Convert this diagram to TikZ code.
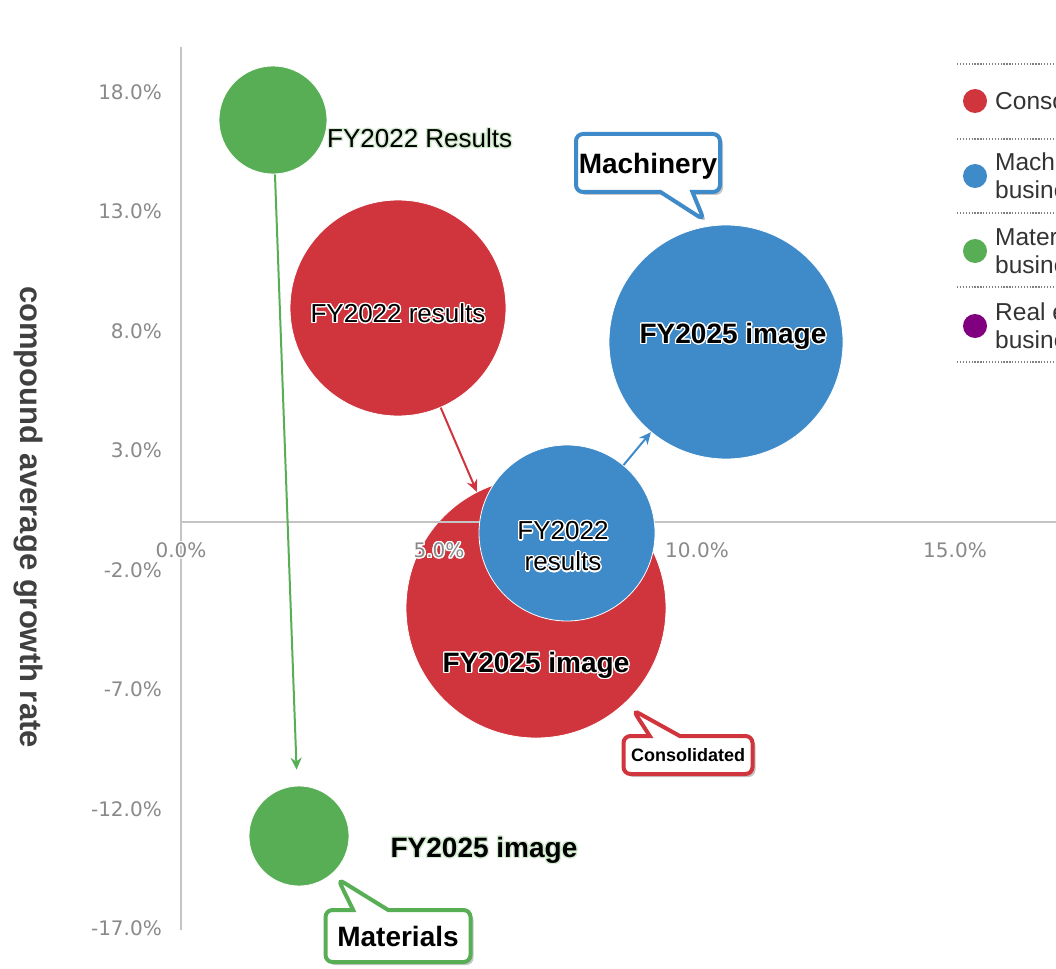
\documentclass[tikz,border=0pt]{standalone}
\usepackage{fontspec}
\setmainfont{Liberation Sans}
\newfontfamily\tickfont{DejaVu Sans}
\usepackage{contour}
\contourlength{1.3pt}
\contournumber{20}
\usetikzlibrary{arrows.meta,shadows,shapes.callouts}
\definecolor{consred}{HTML}{D0353D}
\definecolor{machblue}{HTML}{3F8AC8}
\definecolor{matgreen}{HTML}{58AE55}
\definecolor{realpurple}{HTML}{800080}
\definecolor{axisgray}{HTML}{C4C4C4}
\definecolor{tickgray}{HTML}{898989}
\definecolor{glowgreen}{HTML}{D2ECCF}
\begin{document}
\begin{tikzpicture}[
  x=1pt, y=-1pt,
  bubble/.style={circle, draw=white, line width=.8pt, inner sep=0pt, minimum size=#1},
  ticklbl/.style={font=\tickfont\fontsize{20}{24}\selectfont, text=tickgray, inner sep=0pt},
  lbl/.style={font=\fontsize{26}{31}\selectfont, inner sep=0pt, align=center},
  boldlbl/.style={font=\bfseries\fontsize{28}{33}\selectfont, inner sep=0pt},
  callbox/.style={rectangle callout, rounded corners=7pt, draw=#1, line width=4pt,
    fill=white, inner sep=0pt, text depth=0pt, font=\bfseries\fontsize{28}{33}\selectfont,
    drop shadow={shadow xshift=3pt, shadow yshift=-3pt, opacity=.45}},
  growth/.style={line width=2pt, -{Stealth[length=12pt, width=11pt]}},
  legdot/.style={circle, fill=#1, inner sep=0pt, minimum size=24pt},
  legtext/.style={anchor=west, align=left, inner sep=0pt, text=black!80,
    font=\fontsize{24.5}{28}\selectfont}]
\clip (0,0) rectangle (1056,968);
\draw [axisgray, line width=1.5pt] (181,47) -- (181,930);
\node [rotate=-90, text=black!75, font=\bfseries\fontsize{31}{36}\selectfont]
  (ytitle) at (28,517) {compound average growth rate};
\node [bubble=108pt, fill=matgreen] (gr22) at (273,120) {};
\node [bubble=216pt, fill=consred] (cs22) at (398,308) {};
\node [bubble=260pt, fill=consred] (cs25) at (536,608) {};
\draw [axisgray, line width=1.5pt] (181,522) -- (1056,522);
\node [bubble=176pt, fill=machblue] (mc22) at (567,533) {};
\node [bubble=234pt, fill=machblue] (mc25) at (726,342) {};
\node [bubble=100pt, fill=matgreen] (gr25) at (299,836) {};
\foreach \v in {18,13,8,3,-2,-7,-12,-17}
  \node [ticklbl, anchor=east] at (162,{522-(\v)*23.9}) {\v.0\%};
\foreach \v in {0,5,10,15}
  \node [ticklbl] at ({181+\v*51.6},551) {\contour{white}{\v.0\%}};
\draw [growth, consred] (cs22) -- (cs25.117);
\draw [growth, machblue] (mc22) -- (mc25);
\draw [growth, matgreen, shorten >=16pt] (gr22) -- (gr25);
\node [lbl, anchor=west] (gr22lbl) at (327,139) {\contour{glowgreen}{FY2022 Results}};
\node [lbl] (cs22lbl) at (398,314) {\contour{white}{FY2022 results}};
\node [boldlbl] (cs25lbl) at (536,666) {\contour{white}{FY2025 image}};
\node [lbl] (mc22lbl) at (563,547) {\contour{white}{FY2022}\\\contour{white}{results}};
\node [boldlbl] (mc25lbl) at (733,337) {\contour{white}{FY2025 image}};
\node [boldlbl] (gr25lbl) at (484,851) {\contour{glowgreen}{FY2025 image}};
\coordinate (mctip) at (704,220);
\node [callbox=machblue, callout absolute pointer={(mctip)}, callout pointer width=32pt,
  minimum width=144pt, minimum height=58pt] (mcbox) at (648,163) {Machinery};
\coordinate (cstip) at (633,710);
\node [callbox=consred, font=\bfseries\fontsize{18}{22}\selectfont,
  callout absolute pointer={(cstip)}, callout pointer width=30pt,
  minimum width=129pt, minimum height=38pt] (csbox) at (688,755) {Consolidated};
\coordinate (grtip) at (338,879);
\node [callbox=matgreen, callout absolute pointer={(grtip)}, callout pointer width=35pt,
  minimum width=145pt, minimum height=52pt] (grbox) at (398,936) {Materials};
\foreach \y in {64,139,213,287,362}
  \draw [black!50, line width=1.3pt, dash pattern=on 1.3pt off 1.6pt] (957,\y) -- (1056,\y);
\foreach \c/\t [count=\i, evaluate={\yy=101+(\i-1)*75;}] in
  {consred/{Consolidated}, machblue/{Machinery\\business},
   matgreen/{Materials\\business}, realpurple/{Real estate\\business}}{
  \node [legdot=\c] (leg\i) at (975,\yy) {};
  \node [legtext] (legtxt\i) at (995,\yy) {\t};
}
\end{tikzpicture}
\end{document}
